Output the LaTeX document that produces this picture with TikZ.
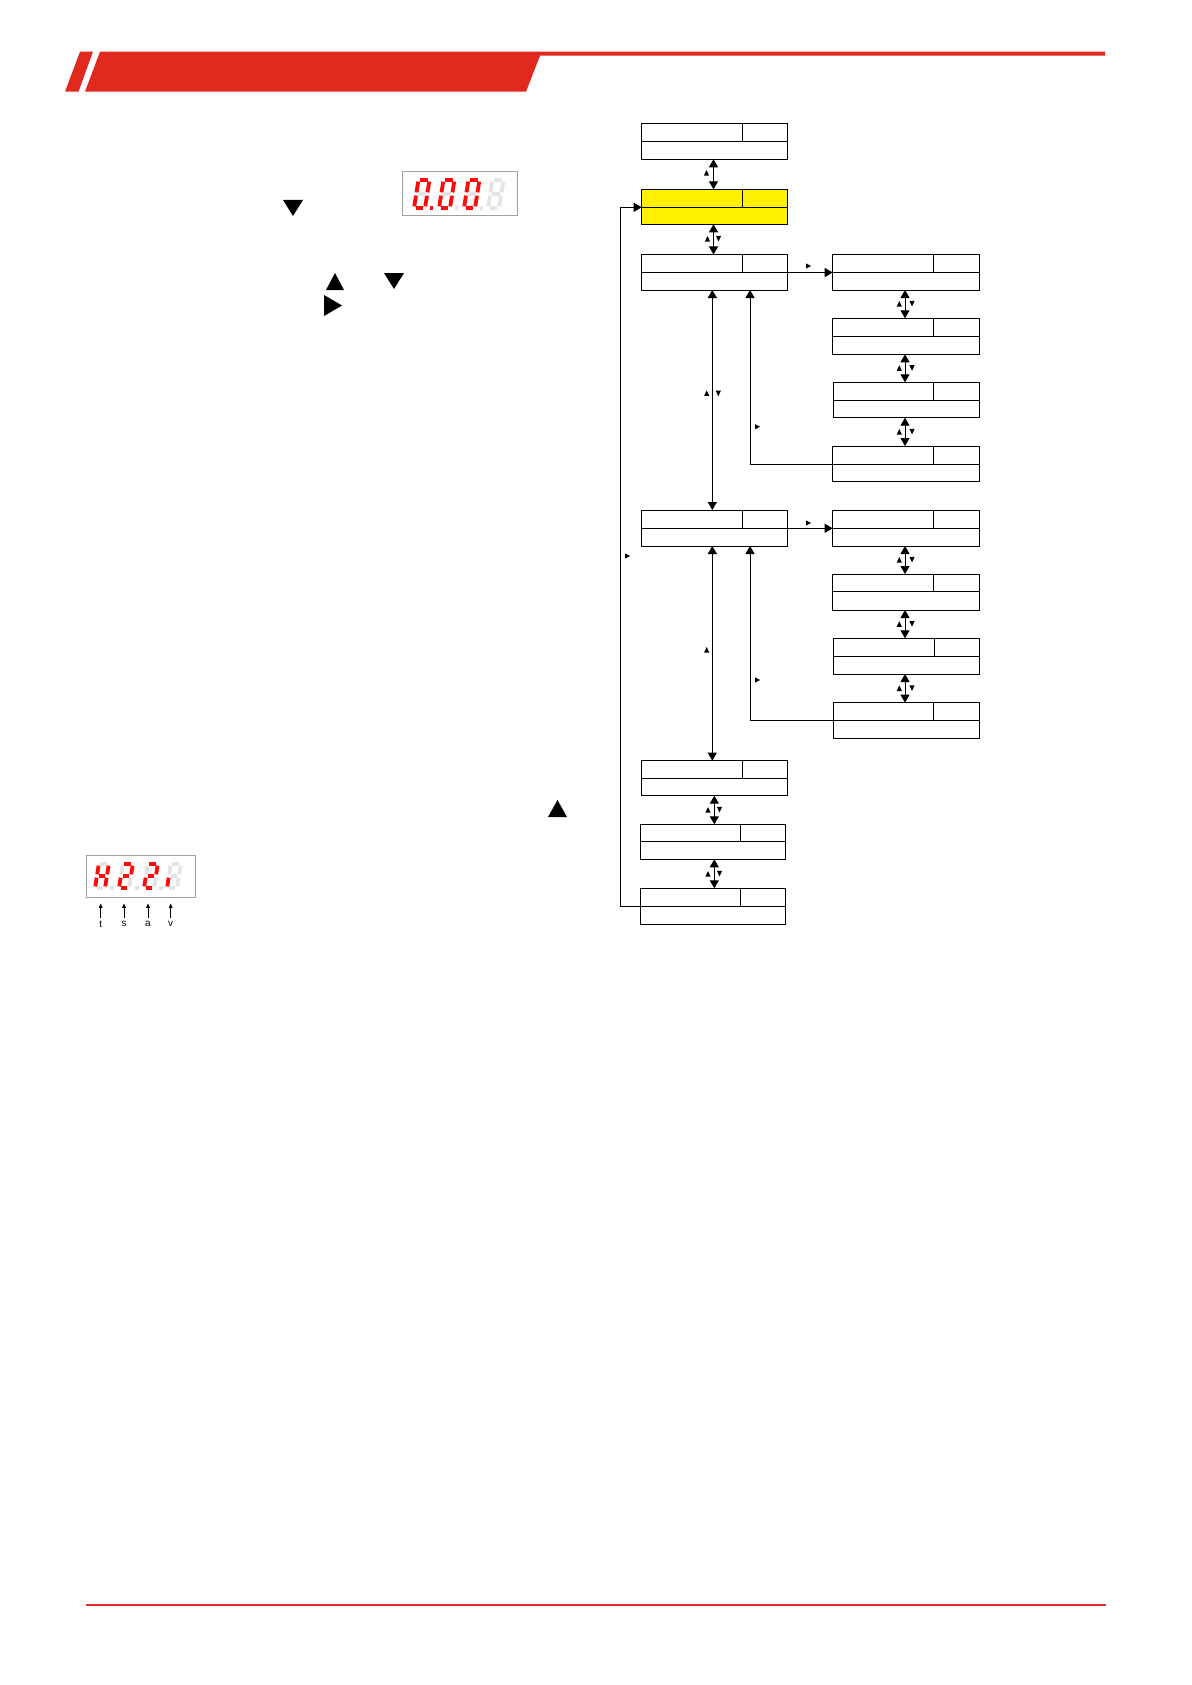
\documentclass[tikz,border=0pt]{standalone}
\usepackage{fontspec}
\setmainfont{Liberation Sans}
\usetikzlibrary{arrows.meta,calc}
\definecolor{hdred}{RGB}{225,41,31}
\definecolor{segred}{RGB}{255,10,10}
\definecolor{ghost}{RGB}{228,228,228}
\definecolor{boxyellow}{RGB}{255,242,0}
\definecolor{dispframe}{RGB}{160,160,160}
\tikzset{
  mbox/.style={draw=black,line width=0.5pt,inner sep=0pt,outer sep=0pt,rectangle},
  boxline/.style={draw=black,line width=0.5pt},
  arr/.style={line width=0.5pt,-{Triangle[length=4pt,width=4.5pt]}},
  dbl/.style={line width=0.5pt,{Triangle[length=4pt,width=4.5pt]}-{Triangle[length=4pt,width=4.5pt]}},
  smarr/.style={line width=0.35pt,-{Triangle[length=2.2pt,width=1.8pt]}},
  seg/.style={line width=1.9pt,line cap=butt},
  lbl/.style={inner sep=0pt,font=\fontsize{5}{6}\selectfont},
  disp/.style={draw=dispframe,line width=0.5pt,fill=white,inner sep=0pt,rectangle}
}
\makeatletter
\newcommand\sevseg[5]{% x, ybottom, lit segments, height, width
  \begin{scope}[shift={(#1,#2)},x=0.5pt,y=0.5pt,xslant=0.16]
    \pgfmathsetmacro\hh{#4}\pgfmathsetmacro\ww{#5}
    \pgfmathsetmacro\hm{#4/2}
    \foreach \s/\ax/\ay/\bx/\by in {a/1.6/\hh/\ww-1.6/\hh, b/\ww/\hh-1.6/\ww/\hm+1.6, c/\ww/\hm-1.6/\ww/1.6, d/1.6/0/\ww-1.6/0, e/0/1.6/0/\hm-1.6, f/0/\hm+1.6/0/\hh-1.6, g/1.6/\hm/\ww-1.6/\hm}{%
      \expandafter\in@\expandafter{\s}{#3}%
      \ifin@\def\segc{segred}\else\def\segc{ghost}\fi
      \draw[seg,draw=\segc] ({\ax},{\ay}) -- ({\bx},{\by});}
  \end{scope}}
\makeatother
\newcommand\dpt[3]{\fill[#3] (#1-1.6,#2-1.6) rectangle (#1+1.6,#2+1.6);}
\newcommand\menubx[8]{% name,x1,y1,x2,y2,ymid,xsplit,fill
  \pgfmathsetmacro\bw{(#4-#2)*0.5}\pgfmathsetmacro\bh{(#5-#3)*0.5}
  \node[mbox,fill=#8,minimum width=\bw pt,minimum height=\bh pt] (#1) at ({(#2+#4)/2},{(#3+#5)/2}) {};
  \coordinate (#1-ml) at (#2,#6);
  \coordinate (#1-mr) at (#4,#6);
  \draw[boxline] (#1-ml) -- (#1-mr);
  \draw[boxline] (#7,#3) -- (#7,#6);}
\newcommand\smup[2]{\fill (#1-2.6,#2+2.6) -- (#1+2.6,#2+2.6) -- (#1,#2-3) -- cycle;}
\newcommand\smdn[2]{\fill (#1-2.6,#2-2.6) -- (#1+2.6,#2-2.6) -- (#1,#2+3) -- cycle;}
\newcommand\smrt[2]{\fill (#1-2,#2-2.6) -- (#1-2,#2+2.6) -- (#1+3,#2) -- cycle;}
\begin{document}
\begin{tikzpicture}[x=0.5pt,y=-0.5pt]
\useasboundingbox (0,0) rectangle (1192,1685);
\fill[white] (0,0) rectangle (1192,1685);
% header
\fill[hdred] (65,91.7) -- (78.5,91.7) -- (93,51.7) -- (80,51.7) -- cycle;
\fill[hdred] (85,91.7) -- (100,51.7) -- (1105,51.7) -- (1105,55.7) -- (540,55.7) -- (526,91.7) -- cycle;
% footer
\draw[hdred,line width=0.8pt] (86,1605) -- (1106,1605);
% left triangles
\fill (283,200) -- (303,200) -- (293,216) -- cycle;
\fill (326,290) -- (344,290) -- (335,273) -- cycle;
\fill (384,273) -- (404,273) -- (394,289) -- cycle;
\fill (324,295) -- (324,316) -- (342,305.5) -- cycle;
\fill (548,817) -- (567,817) -- (557.5,800) -- cycle;
% display 1
\node[disp,minimum width=57.5pt,minimum height=22.2pt] (disp1) at (459.5,193.8) {};
\sevseg{414}{208}{abcdef}{28}{11}
\sevseg{439}{208}{abcdef}{28}{11}
\sevseg{464}{208}{abcdef}{28}{11}
\sevseg{488}{208}{}{28}{11}
\dpt{431.5}{208}{segred}
\dpt{456.5}{208}{ghost}
\dpt{481.5}{208}{ghost}
% display 2
\node[disp,minimum width=54.5pt,minimum height=21pt] (disp2) at (140.5,876) {};
\sevseg{95}{888}{bcefg}{24}{10}
\sevseg{119}{888}{abdeg}{24}{10}
\sevseg{144}{888}{abdeg}{24}{10}
\sevseg{167}{888}{e}{24}{10}
\dpt{112}{888}{ghost}
\dpt{137}{888}{ghost}
\dpt{161}{888}{ghost}
\node[lbl,anchor=north] (lt) at (100.7,920.5) {t};
\node[lbl,anchor=north] (ls) at (124,920.5) {s};
\node[lbl,anchor=north] (la) at (148,920.5) {a};
\node[lbl,anchor=north] (lv) at (170.7,920.5) {v};
\foreach \n in {lt,ls,la,lv}{\draw[smarr] ($(\n.north)+(0,-2.5)$) -- ($(\n.north |- disp2.south)+(0,6)$);}
% menu boxes
\menubx{b1}{641.7}{123.3}{787.7}{159.3}{141.7}{742.7}{white}
\menubx{b2}{641.7}{189.3}{787.7}{224.3}{207.3}{742.7}{boxyellow}
\menubx{b3}{641.7}{254.5}{787.7}{290}{272.5}{742.7}{white}
\menubx{b4}{641.7}{510}{787.7}{546}{528.3}{742.7}{white}
\menubx{b5}{641.7}{760.7}{787.7}{795.7}{778.3}{742.7}{white}
\menubx{b6}{640}{824.3}{785.7}{859.3}{841.7}{740}{white}
\menubx{b7}{640.7}{888.3}{785.7}{924}{906}{740}{white}
\menubx{r1}{832.7}{254.5}{979.3}{290}{272.5}{933.3}{white}
\menubx{r2}{832.7}{318.3}{979.3}{354.3}{336.7}{933.3}{white}
\menubx{r3}{833.3}{382.3}{979.3}{417.7}{400.7}{933.3}{white}
\menubx{r4}{832.7}{446}{979.3}{481.6}{464}{933.3}{white}
\menubx{r5}{832.7}{510}{979.3}{546}{528.3}{933.3}{white}
\menubx{r6}{832.7}{574}{979.3}{610}{591.7}{933.3}{white}
\menubx{r7}{833.3}{638.3}{979.3}{674}{656.7}{934.3}{white}
\menubx{r8}{833.3}{702.7}{979.3}{738.3}{720}{933.3}{white}
% vertical connectors
\coordinate (cx1) at (713.5,0);
\coordinate (cx2) at (712.3,0);
\coordinate (cx3) at (714.3,0);
\coordinate (rx) at (905,0);
\draw[dbl] (cx1 |- b1.south) -- (cx1 |- b2.north);
\draw[dbl] (cx1 |- b2.south) -- (cx1 |- b3.north);
\draw[dbl] (cx2 |- b3.south) -- (cx2 |- b4.north);
\draw[dbl] (cx2 |- b4.south) -- (cx2 |- b5.north);
\draw[dbl] (cx3 |- b5.south) -- (cx3 |- b6.north);
\draw[dbl] (cx3 |- b6.south) -- (cx3 |- b7.north);
\draw[dbl] (rx |- r1.south) -- (rx |- r2.north);
\draw[dbl] (rx |- r2.south) -- (rx |- r3.north);
\draw[dbl] (rx |- r3.south) -- (rx |- r4.north);
\draw[dbl] (rx |- r5.south) -- (rx |- r6.north);
\draw[dbl] (rx |- r6.south) -- (rx |- r7.north);
\draw[dbl] (rx |- r7.south) -- (rx |- r8.north);
% horizontal connectors
\draw[arr] (b3-mr) -- (r1-ml);
\draw[arr] (b4-mr) -- (r5-ml);
% feedback connectors
\coordinate (fx) at (750,0);
\draw[arr] (r4-ml) -| (fx |- b3.south);
\draw[arr] (r8-ml) -| (fx |- b4.south);
% left return loop
\coordinate (lx) at (620.5,0);
\draw[arr] (b7-ml) -- (b7-ml -| lx) -- (b2-ml -| lx) -- (b2-ml);
% key markers
\smup{706.5}{173}
\smup{707.5}{239}\smdn{718.5}{238.5}
\smup{706.7}{393.3}\smdn{718.3}{393.3}
\smup{706.7}{650}
\smup{708}{810}\smdn{719.5}{809.5}
\smup{708}{874}\smdn{719.5}{873.5}
\smup{899.3}{304}\smdn{912}{303.5}
\smup{899.3}{368.3}\smdn{912}{367.8}
\smup{899.3}{432}\smdn{912}{431.5}
\smup{899.3}{560}\smdn{912}{559.5}
\smup{899.3}{624.2}\smdn{912}{623.7}
\smup{899.3}{688.4}\smdn{912}{687.9}
\smrt{808}{266}
\smrt{808}{523}
\smrt{757}{426.7}
\smrt{757}{680}
\smrt{627}{556}
\end{tikzpicture}
\end{document}
